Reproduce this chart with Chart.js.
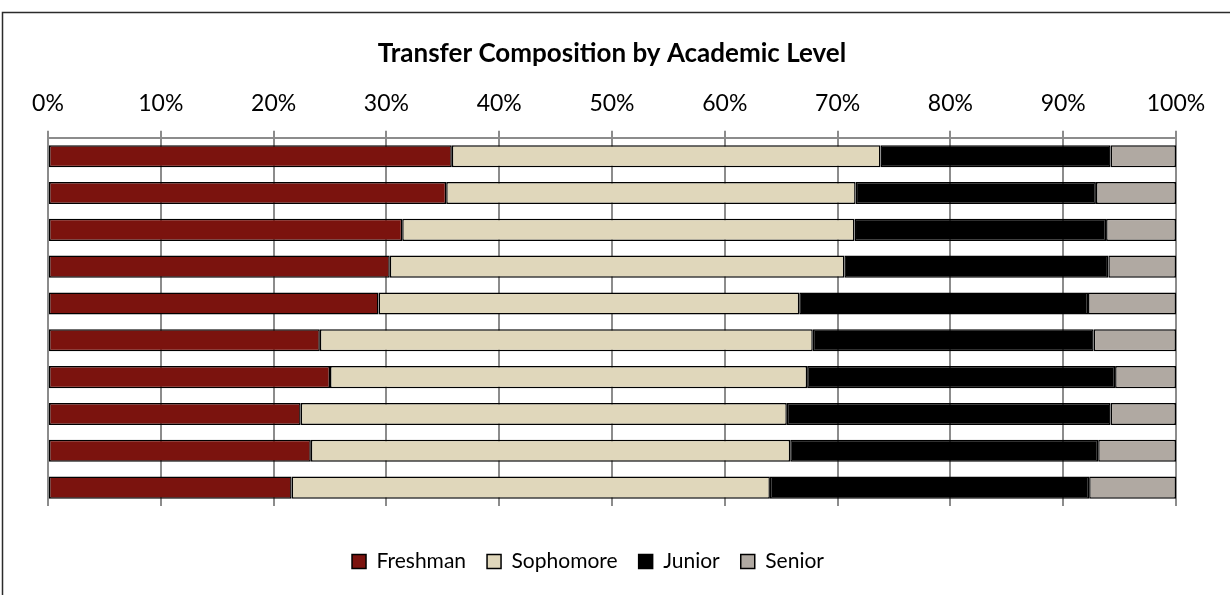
<!DOCTYPE html>
<html>
<head>
<meta charset="utf-8">
<script src="https://cdn.jsdelivr.net/npm/chart.js@4.4.1/dist/chart.umd.min.js"></script>
<style>
  html, body { margin: 0; padding: 0; background: #fff; }
</style>
</head>
<body>
<canvas id="myChart" width="1230" height="595"></canvas>
<script>
// Valores (percentagens por nível)
const categorias = ['1', '2', '3', '4', '5', '6', '7', '8', '9', '10'];
const freshman = [35.8, 35.3, 31.4, 30.3, 29.3, 24.1, 25.0, 22.4, 23.3, 21.6];
const sophomore = [38.0, 36.3, 40.1, 40.3, 37.3, 43.7, 42.3, 43.1, 42.5, 42.4];
const junior = [20.4, 21.3, 22.3, 23.4, 25.6, 24.9, 27.3, 28.7, 27.3, 28.3];
const senior = [5.8, 7.1, 6.2, 6.0, 7.8, 7.3, 5.4, 5.8, 6.9, 7.7];
const tickValues = [0, 10, 20, 30, 40, 50, 60, 70, 80, 90, 100];

const fonte = 'Lato, "Open Sans", sans-serif';

// moldura (só se vê o lado de cima e o da esquerda)
const moldura = {
    id: 'moldura',
    afterDraw(chart) {
        const c = chart.ctx;
        c.save();
        c.strokeStyle = '#2b2b2b';
        c.lineWidth = 1.5;
        c.beginPath();
        c.moveTo(2.5, 600);
        c.lineTo(2.5, 12.5);
        c.lineTo(1240, 12.5);
        c.stroke();
        c.restore();
    }
};

// legenda um pouco mais abaixo e à esquerda, como no original
const ajusteLegenda = {
    id: 'ajusteLegenda',
    afterLayout(chart) {
        const lg = chart.legend;
        lg.left -= 24; lg.right -= 24;
        lg.top += 24; lg.bottom += 24;
    }
};

const ctx = document.getElementById('myChart').getContext('2d');

const myChart = new Chart(ctx, {
    type: 'bar',
    data: {
        labels: categorias,
        datasets: [
            { label: 'Freshman', data: freshman, backgroundColor: '#7b130e' },
            { label: 'Sophomore', data: sophomore, backgroundColor: '#e0d7bb' },
            { label: 'Junior', data: junior, backgroundColor: '#000000' },
            { label: 'Senior', data: senior, backgroundColor: '#b0a9a2' }
        ].map(d => Object.assign(d, {
            borderColor: '#000000',
            borderWidth: 1.5,
            borderSkipped: false,
            barPercentage: 0.6,
            categoryPercentage: 1
        }))
    },
    options: {
        indexAxis: 'y',
        responsive: false,
        animation: false,
        layout: {
            padding: { left: 48, right: 54, top: 0, bottom: 37 }
        },
        scales: {
            x: {
                stacked: true,
                position: 'top',
                min: 0,
                max: 100,
                afterBuildTicks: (axis) => {
                    axis.ticks = tickValues.map(v => ({ value: v }));
                },
                ticks: {
                    callback: (v) => v + '%',
                    color: '#000',
                    font: { family: fonte, size: 23 },
                    padding: 13,
                    maxRotation: 0
                },
                grid: {
                    color: '#8c8c8c',
                    lineWidth: 2,
                    tickLength: 7
                },
                border: { color: '#8c8c8c', width: 2 }
            },
            y: {
                stacked: true,
                display: false
            }
        },
        plugins: {
            title: {
                display: true,
                text: 'Transfer Composition by Academic Level',
                color: '#000',
                font: { family: fonte, size: 26, weight: 'bold' },
                padding: { top: 38, bottom: 8 }
            },
            legend: {
                position: 'bottom',
                labels: {
                    color: '#000',
                    font: { family: fonte, size: 21 },
                    boxWidth: 14,
                    boxHeight: 14,
                    padding: 21
                }
            },
            tooltip: { enabled: false }
        }
    },
    plugins: [moldura, ajusteLegenda]
});
</script>
</body>
</html>
